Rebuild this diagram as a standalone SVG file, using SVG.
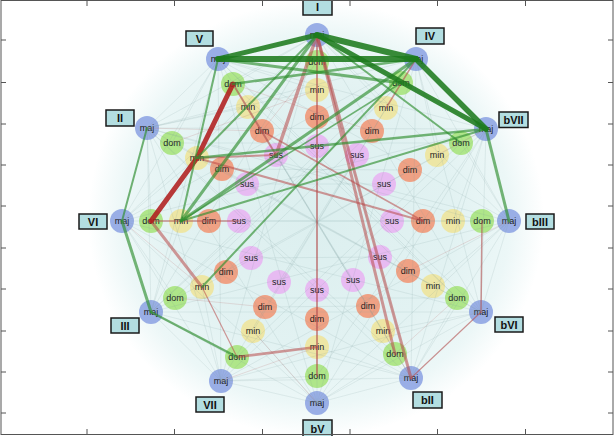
<svg xmlns="http://www.w3.org/2000/svg" width="614" height="436" viewBox="0 0 614 436">
<defs>
<radialGradient id="bg" cx="0.5" cy="0.5" r="0.5">
<stop offset="0" stop-color="#dcefef"/>
<stop offset="0.6" stop-color="#e2f2f2"/>
<stop offset="0.85" stop-color="#ecf7f7"/>
<stop offset="1" stop-color="#ffffff"/>
</radialGradient>
<style>
.maj circle{fill:#91a7e4}
.dom circle{fill:#a9e47f}
.min circle{fill:#eee59e}
.dim circle{fill:#f09a7b}
.sus circle{fill:#e7b6f2}
.nd circle{fill-opacity:0.92}
.nd text{font-family:"Liberation Sans",Arial,sans-serif;font-size:9px;fill:#1a1a1a;text-anchor:middle}
.lb rect{fill:#b3dee1;stroke:#1a1a1a;stroke-width:1.5}
.lb text{font-family:"Liberation Sans",Arial,sans-serif;font-size:11px;font-weight:bold;fill:#111;text-anchor:middle}
.web{fill:none;stroke:#7f9c9c;stroke-width:0.7;stroke-opacity:0.22}
.webr{fill:none;stroke:#c08080;stroke-width:0.8;stroke-opacity:0.3}
.g1{fill:none;stroke:#1e7b1e;stroke-opacity:0.88;stroke-linecap:round}
.g2{fill:none;stroke:#2f8f2f;stroke-opacity:0.65;stroke-linecap:round}
.r1{fill:none;stroke:#b01e1e;stroke-opacity:0.88;stroke-linecap:round}
.r2{fill:none;stroke:#b84848;stroke-opacity:0.55;stroke-linecap:round}
</style>
</defs>
<rect x="0" y="0" width="614" height="436" fill="#ffffff"/>
<ellipse cx="316" cy="219" rx="228" ry="218" fill="url(#bg)"/>

<g id="nodes">
<g id="I-maj" class="nd maj"><circle cx="317" cy="35" r="12"/><text x="317" y="38">maj</text></g>
<g id="IV-maj" class="nd maj"><circle cx="416" cy="59" r="12"/><text x="416" y="62">maj</text></g>
<g id="bVII-maj" class="nd maj"><circle cx="486" cy="129" r="12"/><text x="486" y="132">maj</text></g>
<g id="bIII-maj" class="nd maj"><circle cx="509" cy="221" r="12"/><text x="509" y="224">maj</text></g>
<g id="bVI-maj" class="nd maj"><circle cx="481" cy="312" r="12"/><text x="481" y="315">maj</text></g>
<g id="bII-maj" class="nd maj"><circle cx="411" cy="378" r="12"/><text x="411" y="381">maj</text></g>
<g id="bV-maj" class="nd maj"><circle cx="317" cy="403" r="12"/><text x="317" y="406">maj</text></g>
<g id="VII-maj" class="nd maj"><circle cx="221" cy="381" r="12"/><text x="221" y="384">maj</text></g>
<g id="III-maj" class="nd maj"><circle cx="151" cy="312" r="12"/><text x="151" y="315">maj</text></g>
<g id="VI-maj" class="nd maj"><circle cx="122" cy="221" r="12"/><text x="122" y="224">maj</text></g>
<g id="II-maj" class="nd maj"><circle cx="147" cy="128" r="12"/><text x="147" y="131">maj</text></g>
<g id="V-maj" class="nd maj"><circle cx="218" cy="59" r="12"/><text x="218" y="62">maj</text></g>

<g id="I-dom" class="nd dom"><circle cx="317" cy="62" r="12"/><text x="317" y="65">dom</text></g>
<g id="IV-dom" class="nd dom"><circle cx="401" cy="83" r="12"/><text x="401" y="86">dom</text></g>
<g id="bVII-dom" class="nd dom"><circle cx="461" cy="143" r="12"/><text x="461" y="146">dom</text></g>
<g id="bIII-dom" class="nd dom"><circle cx="482" cy="221" r="12"/><text x="482" y="224">dom</text></g>
<g id="bVI-dom" class="nd dom"><circle cx="457" cy="298" r="12"/><text x="457" y="301">dom</text></g>
<g id="bII-dom" class="nd dom"><circle cx="395" cy="354" r="12"/><text x="395" y="357">dom</text></g>
<g id="bV-dom" class="nd dom"><circle cx="317" cy="376" r="12"/><text x="317" y="379">dom</text></g>
<g id="VII-dom" class="nd dom"><circle cx="237" cy="357" r="12"/><text x="237" y="360">dom</text></g>
<g id="III-dom" class="nd dom"><circle cx="175" cy="298" r="12"/><text x="175" y="301">dom</text></g>
<g id="VI-dom" class="nd dom"><circle cx="151" cy="221" r="12"/><text x="151" y="224">dom</text></g>
<g id="II-dom" class="nd dom"><circle cx="172" cy="143" r="12"/><text x="172" y="146">dom</text></g>
<g id="V-dom" class="nd dom"><circle cx="233" cy="84" r="12"/><text x="233" y="87">dom</text></g>

<g id="I-min" class="nd min"><circle cx="317" cy="90" r="12"/><text x="317" y="93">min</text></g>
<g id="IV-min" class="nd min"><circle cx="386" cy="108" r="12"/><text x="386" y="111">min</text></g>
<g id="bVII-min" class="nd min"><circle cx="437" cy="155" r="12"/><text x="437" y="158">min</text></g>
<g id="bIII-min" class="nd min"><circle cx="453" cy="221" r="12"/><text x="453" y="224">min</text></g>
<g id="bVI-min" class="nd min"><circle cx="433" cy="286" r="12"/><text x="433" y="289">min</text></g>
<g id="bII-min" class="nd min"><circle cx="383" cy="331" r="12"/><text x="383" y="334">min</text></g>
<g id="bV-min" class="nd min"><circle cx="317" cy="347" r="12"/><text x="317" y="350">min</text></g>
<g id="VII-min" class="nd min"><circle cx="253" cy="331" r="12"/><text x="253" y="334">min</text></g>
<g id="III-min" class="nd min"><circle cx="202" cy="287" r="12"/><text x="202" y="290">min</text></g>
<g id="VI-min" class="nd min"><circle cx="181" cy="221" r="12"/><text x="181" y="224">min</text></g>
<g id="II-min" class="nd min"><circle cx="197" cy="158" r="12"/><text x="197" y="161">min</text></g>
<g id="V-min" class="nd min"><circle cx="248" cy="107" r="12"/><text x="248" y="110">min</text></g>

<g id="I-dim" class="nd dim"><circle cx="317" cy="117" r="12"/><text x="317" y="120">dim</text></g>
<g id="IV-dim" class="nd dim"><circle cx="372" cy="131" r="12"/><text x="372" y="134">dim</text></g>
<g id="bVII-dim" class="nd dim"><circle cx="410" cy="170" r="12"/><text x="410" y="173">dim</text></g>
<g id="bIII-dim" class="nd dim"><circle cx="423" cy="221" r="12"/><text x="423" y="224">dim</text></g>
<g id="bVI-dim" class="nd dim"><circle cx="408" cy="271" r="12"/><text x="408" y="274">dim</text></g>
<g id="bII-dim" class="nd dim"><circle cx="368" cy="306" r="12"/><text x="368" y="309">dim</text></g>
<g id="bV-dim" class="nd dim"><circle cx="317" cy="319" r="12"/><text x="317" y="322">dim</text></g>
<g id="VII-dim" class="nd dim"><circle cx="265" cy="307" r="12"/><text x="265" y="310">dim</text></g>
<g id="III-dim" class="nd dim"><circle cx="226" cy="272" r="12"/><text x="226" y="275">dim</text></g>
<g id="VI-dim" class="nd dim"><circle cx="209" cy="221" r="12"/><text x="209" y="224">dim</text></g>
<g id="II-dim" class="nd dim"><circle cx="222" cy="169" r="12"/><text x="222" y="172">dim</text></g>
<g id="V-dim" class="nd dim"><circle cx="262" cy="131" r="12"/><text x="262" y="134">dim</text></g>

<g id="I-sus" class="nd sus"><circle cx="317" cy="146" r="12"/><text x="317" y="149">sus</text></g>
<g id="IV-sus" class="nd sus"><circle cx="357" cy="155" r="12"/><text x="357" y="158">sus</text></g>
<g id="bVII-sus" class="nd sus"><circle cx="384" cy="184" r="12"/><text x="384" y="187">sus</text></g>
<g id="bIII-sus" class="nd sus"><circle cx="392" cy="221" r="12"/><text x="392" y="224">sus</text></g>
<g id="bVI-sus" class="nd sus"><circle cx="380" cy="257" r="12"/><text x="380" y="260">sus</text></g>
<g id="bII-sus" class="nd sus"><circle cx="353" cy="280" r="12"/><text x="353" y="283">sus</text></g>
<g id="bV-sus" class="nd sus"><circle cx="317" cy="290" r="12"/><text x="317" y="293">sus</text></g>
<g id="VII-sus" class="nd sus"><circle cx="279" cy="282" r="12"/><text x="279" y="285">sus</text></g>
<g id="III-sus" class="nd sus"><circle cx="251" cy="258" r="12"/><text x="251" y="261">sus</text></g>
<g id="VI-sus" class="nd sus"><circle cx="239" cy="221" r="12"/><text x="239" y="224">sus</text></g>
<g id="II-sus" class="nd sus"><circle cx="247" cy="184" r="12"/><text x="247" y="187">sus</text></g>
<g id="V-sus" class="nd sus"><circle cx="276" cy="155" r="12"/><text x="276" y="158">sus</text></g>
</g>

<g id="connectors">
<path class="web" d="M317 35L486 129M317 35L509 221M317 35L481 312M317 35L411 378M317 35L317 403M317 35L221 381M317 35L151 312M317 35L122 221M317 35L147 128M416 59L509 221M416 59L481 312M416 59L411 378M416 59L317 403M416 59L221 381M416 59L151 312M416 59L122 221M416 59L147 128M486 129L481 312M486 129L411 378M486 129L317 403M486 129L221 381M486 129L151 312M486 129L122 221M486 129L147 128M486 129L218 59M509 221L411 378M509 221L317 403M509 221L221 381M509 221L151 312M509 221L122 221M509 221L147 128M509 221L218 59M481 312L317 403M481 312L221 381M481 312L151 312M481 312L122 221M481 312L147 128M481 312L218 59M411 378L221 381M411 378L151 312M411 378L122 221M411 378L147 128M411 378L218 59M317 403L151 312M317 403L122 221M317 403L147 128M317 403L218 59M221 381L122 221M221 381L147 128M221 381L218 59M151 312L147 128M151 312L218 59M122 221L218 59M509 221L481 312L411 378L317 403L221 381L151 312M122 221L147 128L218 59"/>
<path class="web" d="M233 84L317 35M317 62L416 59M401 83L486 129M461 143L509 221M482 221L481 312M457 298L411 378M395 354L317 403M317 376L221 381M237 357L151 312M175 298L122 221M151 221L147 128M172 143L218 59M317 90L147 128M317 90L218 59M386 108L317 35M437 155L416 59M453 221L486 129M433 286L509 221M383 331L481 312M317 347L411 378M253 331L317 403M202 287L221 381M181 221L151 312M197 158L122 221M248 107L147 128M172 143L461 143M151 221L482 221M175 298L457 298M233 84L457 298M401 83L175 298M197 158L433 286M437 155L202 287M248 107L383 331M386 108L253 331M262 131L408 271M372 131L226 272M222 169L410 170M265 307L368 306M276 155L353 280M357 155L279 282M247 184L384 184M251 258L380 257M461 143L237 357M401 83L151 312M233 84L411 378M172 143L481 312M482 221L147 128M457 298L218 59M395 354L147 128M317 376L486 129"/>
<path class="webr" d="M262 131L317 62M221 381L317 347M395 354L457 298M233 84L372 131M172 143L317 90M175 298L265 307M411 378L383 331M486 129L437 155M122 221L202 287M317 403L253 331M509 221L408 271M147 128L262 131"/>

<path class="r2" stroke-width="3.5" d="M317 35L276 155"/>
<path class="r2" stroke-width="3" d="M317 35L395 354"/>
<path class="r2" stroke-width="3" d="M317 35L411 378"/>
<path class="r2" stroke-width="2" d="M317 35L317 376"/>
<path class="r2" stroke-width="3" d="M151 221L202 287"/>
<path class="r2" stroke-width="2.5" d="M237 357L317 347"/>
<path class="r2" stroke-width="2" d="M197 158L423 221"/>
<path class="r2" stroke-width="2" d="M197 158L276 155"/>
<path class="r2" stroke-width="2" d="M233 84L276 155"/>
<path class="r2" stroke-width="1.5" d="M416 59L386 108"/>
<path class="r2" stroke-width="1.5" d="M482 221L481 312"/>
<path class="r2" stroke-width="1.2" d="M481 312L411 378M237 357L202 287"/>
<path class="r2" stroke-width="1.5" d="M262 131L423 221M151 221L239 221"/>
<path class="r1" stroke-width="5" d="M233 84L197 158L151 221"/>

<path class="g2" stroke-width="3" d="M218 59L401 83"/>
<path class="g2" stroke-width="2.5" d="M233 84L416 59"/>
<path class="g2" stroke-width="3" d="M317 35L181 221"/>
<path class="g2" stroke-width="3" d="M416 59L181 221"/>
<path class="g2" stroke-width="2" d="M218 59L181 221"/>
<path class="g2" stroke-width="2" d="M317 35L197 158"/>
<path class="g2" stroke-width="3" d="M486 129L509 221"/>
<path class="g2" stroke-width="3" d="M122 221L151 312"/>
<path class="g2" stroke-width="2.5" d="M151 312L237 357"/>
<path class="g2" stroke-width="2" d="M147 128L122 221"/>
<path class="g2" stroke-width="2.5" d="M197 158L486 129"/>
<path class="g2" stroke-width="2" d="M181 221L486 129"/>
<path class="g2" stroke-width="2" d="M202 287L416 59"/>
<path class="g2" stroke-width="2" d="M317 35L461 143"/>
<path class="g2" stroke-width="1.5" d="M401 83L181 221"/>

<path class="g1" stroke-width="5" d="M317 35L218 59"/>
<path class="g1" stroke-width="6" d="M317 35L416 59"/>
<path class="g1" stroke-width="6" d="M218 59L416 59"/>
<path class="g1" stroke-width="5" d="M317 35L486 129"/>
<path class="g1" stroke-width="5.5" d="M416 59L486 129"/>
</g>

<g id="labels">
<g id="lbl-I" class="lb"><rect x="303" y="-2" width="29" height="17"/><text x="317.5" y="11">I</text></g>
<g id="lbl-IV" class="lb"><rect x="416" y="28" width="28" height="16"/><text x="430" y="40">IV</text></g>
<g id="lbl-bVII" class="lb"><rect x="499" y="112" width="29" height="15.5"/><text x="513.5" y="123.5">bVII</text></g>
<g id="lbl-bIII" class="lb"><rect x="526" y="214" width="28" height="15"/><text x="540" y="225.5">bIII</text></g>
<g id="lbl-bVI" class="lb"><rect x="495" y="317" width="28" height="15"/><text x="509" y="328.5">bVI</text></g>
<g id="lbl-bII" class="lb"><rect x="413" y="392" width="29" height="16"/><text x="427.5" y="404">bII</text></g>
<g id="lbl-bV" class="lb"><rect x="303" y="420" width="29" height="17"/><text x="317.5" y="432.5">bV</text></g>
<g id="lbl-VII" class="lb"><rect x="196" y="397" width="28" height="15"/><text x="210" y="408.5">VII</text></g>
<g id="lbl-III" class="lb"><rect x="111" y="318" width="28" height="15"/><text x="125" y="329.5">III</text></g>
<g id="lbl-VI" class="lb"><rect x="79" y="214" width="28" height="15"/><text x="93" y="225.5">VI</text></g>
<g id="lbl-II" class="lb"><rect x="106" y="110" width="28" height="16"/><text x="120" y="122">II</text></g>
<g id="lbl-V" class="lb"><rect x="186" y="31" width="27" height="15"/><text x="199.5" y="42.5">V</text></g>
</g>

<g id="frame" fill="none" stroke="#555" stroke-width="1">
<rect x="1" y="0.5" width="612" height="434"/>
<path d="M1 40H6M1 82.5H6M1 124H6M1 165H6M1 206H6M1 248H6M1 289H6M1 331H6M1 372H6M1 413H6M613 40H608M613 82.5H608M613 124H608M613 165H608M613 206H608M613 248H608M613 289H608M613 331H608M613 372H608M613 413H608M87 0.5V6M174.5 0.5V6M262.5 0.5V6M350 0.5V6M437.5 0.5V6M525.5 0.5V6M87 434.5V429M174.5 434.5V429M262.5 434.5V429M350 434.5V429M437.5 434.5V429M525.5 434.5V429"/>
</g>
</svg>
